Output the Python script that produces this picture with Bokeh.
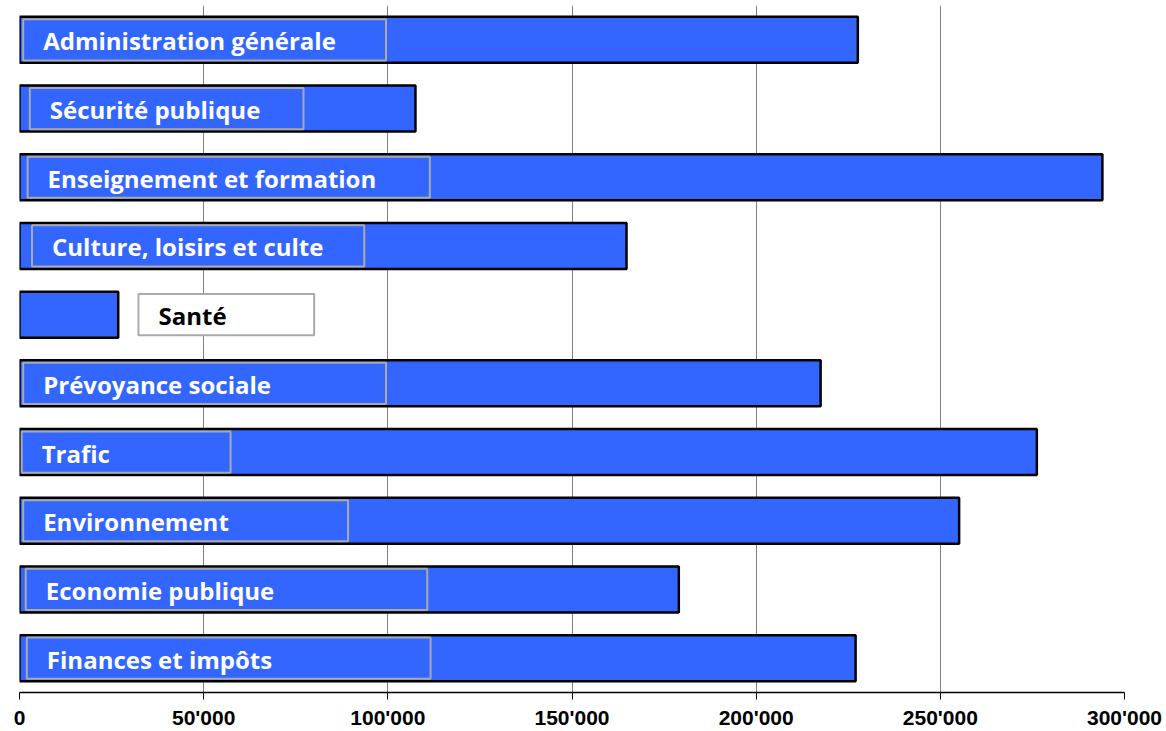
from bokeh.plotting import figure
from bokeh.models import Range1d, FactorRange, FixedTicker, ColumnDataSource
from bokeh.core.properties import value
from bokeh.embed import file_html
from bokeh.resources import INLINE

# ---- data ----
categories = [
    "Administration générale",
    "Sécurité publique",
    "Enseignement et formation",
    "Culture, loisirs et culte",
    "Santé",
    "Prévoyance sociale",
    "Trafic",
    "Environnement",
    "Economie publique",
    "Finances et impôts",
]
amounts = [227600, 107500, 294000, 164800, 26800, 217500, 276200, 255100, 179000, 227000]
tick_values = [0, 50000, 100000, 150000, 200000, 250000, 300000]
tick_labels = ["0", "50'000", "100'000", "150'000", "200'000", "250'000", "300'000"]

# ---- label box layout (data units along x) ----
box_left = [1000, 2800, 2200, 3400, 32300, 1000, 600, 1000, 1700, 2000]
box_right = [99500, 77100, 111400, 93600, 80000, 99500, 57300, 89200, 110700, 111600]
box_white = [False, False, False, False, True, False, False, False, False, False]

p = figure(
    width=1166, height=731,
    x_range=Range1d(0, 300000),
    y_range=FactorRange(factors=list(reversed(categories))),
    output_backend="svg", toolbar_location=None,
    y_axis_location=None,
    min_border_left=19, min_border_right=42, min_border_top=5, min_border_bottom=38,
)
p.outline_line_color = None
p.background_fill_color = "white"
p.border_fill_color = "white"

bars = ColumnDataSource(dict(y=categories, right=amounts))
p.hbar(y="y", left=0, right="right", height=0.669, source=bars,
       fill_color="#3366FF", line_color="black", line_width=2.5)

boxes = ColumnDataSource(dict(
    y=categories, left=box_left, right=box_right,
    fill=["white" if w else "#3366FF" for w in box_white],
    alpha=[1.0 if w else 0.0 for w in box_white],
))
p.hbar(y="y", left="left", right="right", height=0.6, source=boxes,
       fill_color="fill", fill_alpha="alpha", line_color="#AAAAAA", line_width=2)

labels = ColumnDataSource(dict(
    y=categories, x=box_left, text=categories,
    color=["black" if w else "white" for w in box_white],
))
p.text(x="x", y="y", text="text", source=labels, x_offset=20, y_offset=1,
       text_color="color", text_font=value("Open Sans"), text_font_style="bold",
       text_font_size="24px", text_baseline="alphabetic", text_align="left")

xa = p.xaxis[0]
xa.ticker = FixedTicker(ticks=tick_values)
xa.major_label_overrides = {v: l for v, l in zip(tick_values, tick_labels)}
xa.minor_tick_line_color = None
xa.major_tick_out = 7
xa.major_tick_in = 0
xa.axis_line_color = "black"
xa.axis_line_width = 1.5
xa.major_tick_line_color = "black"
xa.major_label_text_font = "Liberation Sans"
xa.major_label_text_font_style = "bold"
xa.major_label_text_font_size = "21px"
xa.major_label_text_color = "black"
xa.major_label_standoff = 6

p.xgrid.ticker = FixedTicker(ticks=tick_values)
p.xgrid.grid_line_color = "#808080"
p.xgrid.grid_line_width = 1
p.ygrid.grid_line_color = None

open("out.html", "w").write(file_html(p, INLINE))
